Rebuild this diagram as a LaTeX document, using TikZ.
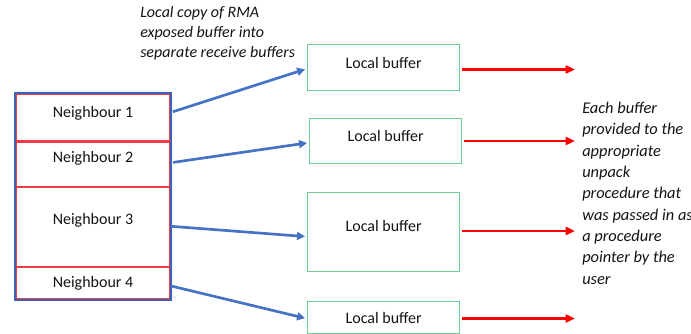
\documentclass[tikz,border=0pt]{standalone}
\usepackage{fontspec}
\setmainfont{Carlito}
\usetikzlibrary{arrows.meta,calc,fit}
\definecolor{obl}{RGB}{68,114,196}
\definecolor{frameblue}{RGB}{60,100,180}
\definecolor{cellred}{RGB}{240,60,70}
\definecolor{bufgreen}{RGB}{110,205,150}
\definecolor{txt}{RGB}{20,20,20}
\tikzset{
  cellbox/.style={draw=cellred, line width=1.5pt, anchor=north west, inner sep=0pt, minimum width=115.5pt},
  bufbox/.style={draw=bufgreen, line width=1pt, anchor=north west, inner sep=0pt, minimum width=114pt},
  lbl/.style={text=txt, inner sep=0pt},
  note/.style={text=txt, inner sep=0pt, align=left, anchor=north west, font=\itshape\fontsize{12}{15}\selectfont},
  bluearrow/.style={draw=obl, line width=2pt, -{Triangle[length=6pt,width=6pt]}, shorten <=3pt, shorten >=1.5pt},
  redarrow/.style={draw=red, line width=1.9pt, -{Triangle[length=7pt,width=6pt]}, shorten <=1.5pt}
}
\begin{document}
\begin{tikzpicture}[x=0.75pt,y=-0.75pt, font=\fontsize{12}{15}\selectfont]
\useasboundingbox (0,0) rectangle (691,334);
% left column
\node[cellbox, minimum height=36pt] (n1) at (15,93) {};
\node[cellbox, minimum height=34.5pt] (n2) at (15,140) {};
\node[cellbox, minimum height=60pt] (n3) at (15,186) {};
\node[cellbox, minimum height=24pt] (n4) at (15,266) {};
\node[draw=frameblue, line width=1.4pt, inner sep=0.3pt, fit=(n1)(n4)] (frame) {};
\node[lbl] (t1) at ($(n1.center)+(0,-5)$) {Neighbour 1};
\node[lbl] (t2) at ($(n2.center)+(0,-6)$) {Neighbour 2};
\node[lbl] (t3) at ($(n3.center)+(0,-7)$) {Neighbour 3};
\node[lbl] (t4) at ($(n4.center)+(0,0)$) {Neighbour 4};
% buffers
\node[bufbox, minimum height=34.5pt] (b1) at (307,44) {};
\node[bufbox, minimum height=33.75pt] (b2) at (309,118) {};
\node[bufbox, minimum height=59.25pt] (b3) at (307,192) {};
\node[bufbox, minimum height=24pt] (b4) at (307,301) {};
\node[lbl] (u1) at ($(b1.center)+(0,-5)$) {Local buffer};
\node[lbl] (u2) at ($(b2.center)+(0,-5)$) {Local buffer};
\node[lbl] (u3) at ($(b3.center)+(0,-6)$) {Local buffer};
\node[lbl] (u4) at ($(b4.center)+(0,0)$) {Local buffer};
% blue arrows
\coordinate (s1) at (169,113);
\coordinate (s2) at (169,163);
\coordinate (s3) at (167,226);
\coordinate (s4) at (167,285);
\coordinate (d1) at ($(b1.west)+(0,1)$);
\coordinate (d2) at ($(b2.west)+(0,1.5)$);
\coordinate (d3) at ($(b3.west)+(0,4.5)$);
\coordinate (d4) at ($(b4.west)+(0,1)$);
\draw[bluearrow] (s1) -- (d1);
\draw[bluearrow] (s2) -- (d2);
\draw[bluearrow] (s3) -- (d3);
\draw[bluearrow] (s4) -- (d4);
% red arrows
\coordinate (e1) at (575,69.5);
\coordinate (e2) at (575,141);
\coordinate (e3) at (575,231);
\coordinate (e4) at (575,318.5);
\draw[redarrow] (e1 -| b1.east) -- (e1);
\draw[redarrow] (e2 -| b2.east) -- (e2);
\draw[redarrow] (e3 -| b3.east) -- (e3);
\draw[redarrow] (e4 -| b4.east) -- (e4);
% notes
\node[note] (top) at (140,6) {Local copy of RMA\\exposed buffer into\\separate receive buffers};
\node[note, font=\itshape\fontsize{12.3}{16}\selectfont] (right) at (582,102) {Each buffer\\provided to the\\appropriate\\unpack\\procedure that\\was passed in as\\a procedure\\pointer by the\\user};
\end{tikzpicture}
\end{document}
